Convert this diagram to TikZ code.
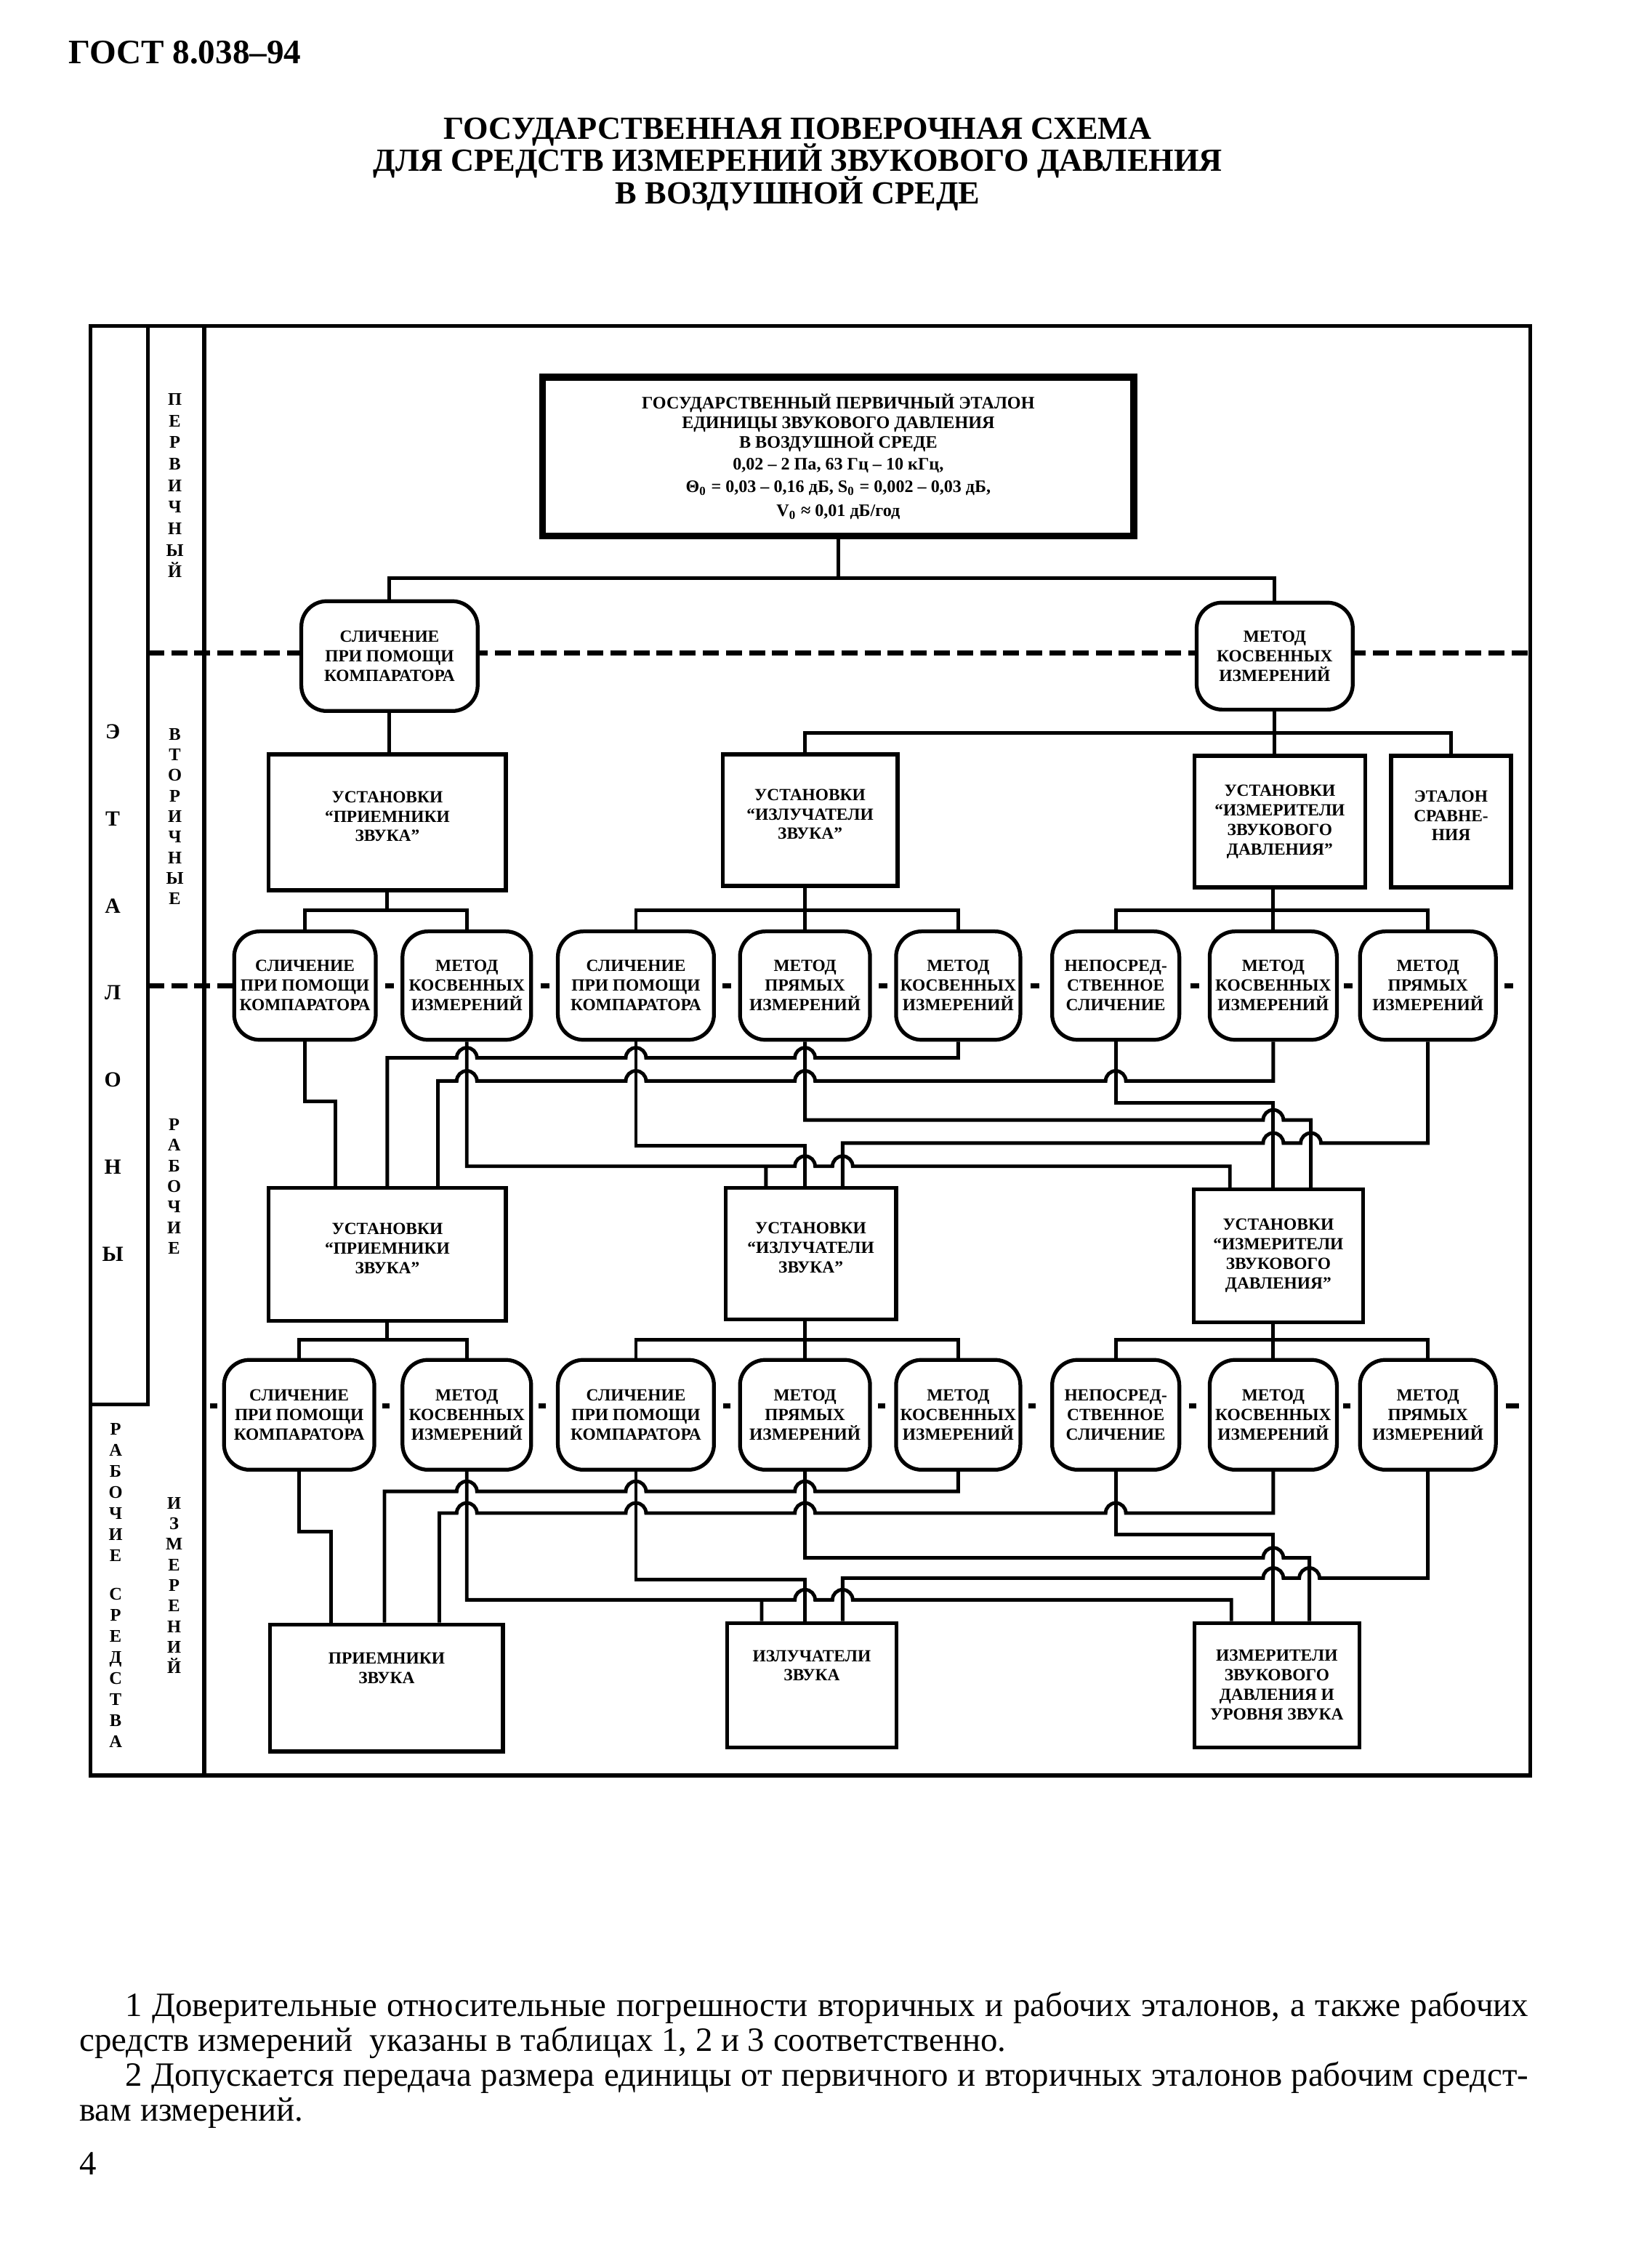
\documentclass[tikz,border=0pt]{standalone}
\usepackage{fontspec}
\setmainfont{Liberation Serif}
\newcommand\hopL[2]{-- (#1+7,#2) arc[start angle=0,end angle=180,radius=1.4mm]}
\newcommand\hopR[2]{-- (#1-7,#2) arc[start angle=180,end angle=0,radius=1.4mm]}
\tikzset{
  ln/.style={line width=1.4pt},
  frm/.style={line width=1.5pt},
  dsh/.style={line width=2pt,dash pattern=on 6.3pt off 2.8pt},
  tick/.style={line width=2pt},
  sz/.style 2 args={minimum width=#1*0.2mm,minimum height=#2*0.2mm},
  box/.style={draw,line width=1.5pt,fill=white,inner sep=0pt,align=center,
    font=\fontsize{6.7}{7.7}\selectfont\bfseries\lineskiplimit-20pt},
  rbox/.style={box,rounded corners=10pt},
  vlbl/.style 2 args={inner sep=0pt,align=center,font=\fontsize{#1}{#2}\selectfont\bfseries}}

\begin{document}
\begin{tikzpicture}[x=0.2mm,y=-0.2mm]
  \useasboundingbox (0,0) rectangle (1143,1568);
  \fill[white] (0,0) rectangle (1143,1568);

  \node[anchor=base west,inner sep=0pt,font=\fontsize{13.5}{15}\selectfont\bfseries] (gost) at (47,44) {ГОСТ 8.038–94};
  \node[anchor=north,inner sep=0pt,align=center,font=\fontsize{12.7}{12.8}\selectfont\bfseries\lineskiplimit-20pt] (ttl) at (552,81)
    {ГОСУДАРСТВЕННАЯ ПОВЕРОЧНАЯ СХЕМА\\ДЛЯ СРЕДСТВ ИЗМЕРЕНИЙ ЗВУКОВОГО ДАВЛЕНИЯ\\В ВОЗДУШНОЙ СРЕДЕ};

  \draw[frm] (62.6,225.6) rectangle (1059,1228.5);
  \draw[frm] (141.3,225.6) -- (141.3,1228.5);
  \draw[frm] (102.5,225.6) -- (102.5,972) -- (62.6,972);
  \draw[dsh] (102.5,452) -- (1059,452);

  \node[vlbl={7}{8.5pt}] (perv) at (121,336) {П\\Е\\Р\\В\\И\\Ч\\Н\\Ы\\Й};
  \node[vlbl={7}{8.1pt}] (vtor) at (121,565) {В\\Т\\О\\Р\\И\\Ч\\Н\\Ы\\Е};
  \node[vlbl={7}{8.1pt}] (rab) at (120.5,821) {Р\\А\\Б\\О\\Ч\\И\\Е};
  \node[vlbl={8.5}{34.3pt}] (etal) at (78,687) {Э\\Т\\А\\Л\\О\\Н\\Ы};
  \node[vlbl={7}{8.3pt}] (rsi) at (80,1097) {Р\\А\\Б\\О\\Ч\\И\\Е\\[7pt]С\\Р\\Е\\Д\\С\\Т\\В\\А};
  \node[vlbl={7}{8.1pt}] (izm) at (120.5,1097) {И\\З\\М\\Е\\Р\\Е\\Н\\И\\Й};

  \node[box,line width=2.6pt,sz={409}{110},font=\fontsize{6.9}{7.7}\selectfont\bfseries\lineskiplimit-20pt] (gpe) at (580,316)
    {ГОСУДАРСТВЕННЫЙ ПЕРВИЧНЫЙ ЭТАЛОН\\ЕДИНИЦЫ ЗВУКОВОГО ДАВЛЕНИЯ\\В ВОЗДУШНОЙ СРЕДЕ\\[1pt]
     0,02 – 2 Па, 63 Гц – 10 кГц,\\[1.2pt]
     Θ\textsubscript{0} = 0,03 – 0,16 дБ, S\textsubscript{0} = 0,002 – 0,03 дБ,\\[1.7pt]
     V\textsubscript{0} ≈ 0,01 дБ/год};
  \node[rbox,sz={122}{76}] (m1) at (269.5,454) {СЛИЧЕНИЕ\\ПРИ ПОМОЩИ\\КОМПАРАТОРА};
  \node[rbox,sz={108}{74}] (m2) at (882,454) {МЕТОД\\КОСВЕННЫХ\\ИЗМЕРЕНИЙ};

  \node[box,sz={164}{94}] (v1) at (268,569) {УСТАНОВКИ\\“ПРИЕМНИКИ\\ЗВУКА”\\[-3pt]~};
  \node[box,sz={121}{91}] (v2) at (560.5,567.5) {УСТАНОВКИ\\“ИЗЛУЧАТЕЛИ\\ЗВУКА”\\[-3pt]~};
  \node[box,sz={118}{91}] (v3) at (885.5,568.5) {УСТАНОВКИ\\“ИЗМЕРИТЕЛИ\\ЗВУКОВОГО\\ДАВЛЕНИЯ”};
  \node[box,sz={83}{91}] (v4) at (1004,568.5) {ЭТАЛОН\\СРАВНЕ-\\НИЯ\\[-3pt]~};

  \node[rbox,sz={98}{75}] (mv1) at (211,682) {СЛИЧЕНИЕ\\ПРИ ПОМОЩИ\\КОМПАРАТОРА};
  \node[rbox,sz={89}{75}] (mv2) at (323,682) {МЕТОД\\КОСВЕННЫХ\\ИЗМЕРЕНИЙ};
  \node[rbox,sz={108}{75}] (mv3) at (440,682) {СЛИЧЕНИЕ\\ПРИ ПОМОЩИ\\КОМПАРАТОРА};
  \node[rbox,sz={90}{75}] (mv4) at (557,682) {МЕТОД\\ПРЯМЫХ\\ИЗМЕРЕНИЙ};
  \node[rbox,sz={86}{75}] (mv5) at (663,682) {МЕТОД\\КОСВЕННЫХ\\ИЗМЕРЕНИЙ};
  \node[rbox,sz={88}{75}] (mv6) at (772,682) {НЕПОСРЕД-\\СТВЕННОЕ\\СЛИЧЕНИЕ};
  \node[rbox,sz={88}{75}] (mv7) at (881,682) {МЕТОД\\КОСВЕННЫХ\\ИЗМЕРЕНИЙ};
  \node[rbox,sz={94}{75}] (mv8) at (988,682) {МЕТОД\\ПРЯМЫХ\\ИЗМЕРЕНИЙ};

  \node[box,sz={164}{92}] (r1) at (268,868) {УСТАНОВКИ\\“ПРИЕМНИКИ\\ЗВУКА”\\[-3pt]~};
  \node[box,sz={118}{91}] (r2) at (561,867.5) {УСТАНОВКИ\\“ИЗЛУЧАТЕЛИ\\ЗВУКА”\\[-3pt]~};
  \node[box,sz={117}{92}] (r3) at (884.5,869) {УСТАНОВКИ\\“ИЗМЕРИТЕЛИ\\ЗВУКОВОГО\\ДАВЛЕНИЯ”};

  \node[rbox,sz={104}{76}] (mr1) at (207,979) {СЛИЧЕНИЕ\\ПРИ ПОМОЩИ\\КОМПАРАТОРА};
  \node[rbox,sz={89}{76}] (mr2) at (323,979) {МЕТОД\\КОСВЕННЫХ\\ИЗМЕРЕНИЙ};
  \node[rbox,sz={108}{76}] (mr3) at (440,979) {СЛИЧЕНИЕ\\ПРИ ПОМОЩИ\\КОМПАРАТОРА};
  \node[rbox,sz={90}{76}] (mr4) at (557,979) {МЕТОД\\ПРЯМЫХ\\ИЗМЕРЕНИЙ};
  \node[rbox,sz={86}{76}] (mr5) at (663,979) {МЕТОД\\КОСВЕННЫХ\\ИЗМЕРЕНИЙ};
  \node[rbox,sz={88}{76}] (mr6) at (772,979) {НЕПОСРЕД-\\СТВЕННОЕ\\СЛИЧЕНИЕ};
  \node[rbox,sz={88}{76}] (mr7) at (881,979) {МЕТОД\\КОСВЕННЫХ\\ИЗМЕРЕНИЙ};
  \node[rbox,sz={94}{76}] (mr8) at (988,979) {МЕТОД\\ПРЯМЫХ\\ИЗМЕРЕНИЙ};

  \node[box,sz={161}{88}] (s1) at (267.5,1168) {ПРИЕМНИКИ\\ЗВУКА\\~\\~};
  \node[box,sz={117.5}{86}] (s2) at (561.7,1166) {ИЗЛУЧАТЕЛИ\\ЗВУКА\\~\\~};
  \node[box,sz={114}{86}] (s3) at (883.5,1166) {ИЗМЕРИТЕЛИ\\ЗВУКОВОГО\\ДАВЛЕНИЯ И\\УРОВНЯ ЗВУКА};

  \draw[dsh] (102.5,682) -- (mv1.west);
  \foreach \x in {269.5,377,503,611,716,826.5,933,1044} \draw[tick] (\x-3,682) -- (\x+3,682);
  \foreach \x in {148,267,375,503,610,714,825,932} \draw[tick] (\x-2.5,973) -- (\x+2.5,973);
  \draw[tick] (1042,973) -- (1051,973);

  \draw[ln] (gpe.south) -- (gpe.south |- 0,400) (m1.north) |- (m2.north |- 0,400) -- (m2.north);
  \draw[ln] (m1.south) -- (m1.south |- v1.north);
  \draw[ln] (m2.south) -- (m2.south |- v3.north) (v2.north -| mv4.north) |- (v4.north |- 0,507) -- (v4.north);

  \draw[ln] (v1.south) -- (v1.south |- 0,630) (mv1.north) |- (mv2.north |- 0,630) -- (mv2.north);
  \draw[ln] (mv4.north |- v2.south) -- (mv4.north) (mv3.north) |- (mv5.north |- 0,630) -- (mv5.north);
  \draw[ln] (mv7.north |- v3.south) -- (mv7.north) (mv6.north) |- (mv8.north |- 0,630) -- (mv8.north);

  \draw[ln] (mv1.south) |- (232,762) -- (232,0 |- r1.north);
  \draw[ln] (mv2.south) |- (530,807) coordinate (j1) \hopR{557}{807} \hopR{583}{807} -- (851,807) -- (851,0 |- r3.north)
    (j1) -- (j1 |- r2.north);
  \draw[ln] (mv3.south) |- (557,793) -- (557,0 |- r2.north);
  \draw[ln] (mv4.south) |- (860,775) \hopR{881}{775} -- (907,775) -- (907,0 |- r3.north);
  \draw[ln] (mv5.south) |- (600,732) \hopL{557}{732} \hopL{440}{732} \hopL{323}{732} -- (268,732) -- (268,0 |- r1.north);
  \draw[ln] (mv6.south) |- (881,763) -- (881,0 |- r3.north);
  \draw[ln] (mv7.south) |- (800,748) \hopL{772}{748} \hopL{557}{748} \hopL{440}{748} \hopL{323}{748} -- (303,748) -- (303,0 |- r1.north);
  \draw[ln] (mv8.south) |- (930,791) \hopL{907}{791} \hopL{881}{791} -- (583,791) -- (583,0 |- r2.north);

  \draw[ln] (r1.south) -- (r1.south |- 0,927) (mr1.north) |- (mr2.north |- 0,927) -- (mr2.north);
  \draw[ln] (mr4.north |- r2.south) -- (mr4.north) (mr3.north) |- (mr5.north |- 0,927) -- (mr5.north);
  \draw[ln] (mr7.north |- r3.south) -- (mr7.north) (mr6.north) |- (mr8.north |- 0,927) -- (mr8.north);

  \draw[ln] (mr1.south) |- (229,1060) -- (229,0 |- s1.north);
  \draw[ln] (mr2.south) |- (527,1107) coordinate (j2) \hopR{557}{1107} \hopR{583}{1107} -- (852,1107) -- (852,0 |- s3.north)
    (j2) -- (j2 |- s2.north);
  \draw[ln] (mr3.south) |- (557,1093) -- (557,0 |- s2.north);
  \draw[ln] (mr4.south) |- (860,1078) \hopR{881}{1078} -- (906,1078) -- (906,0 |- s3.north);
  \draw[ln] (mr5.south) |- (600,1032) \hopL{557}{1032} \hopL{440}{1032} \hopL{323}{1032} -- (266,1032) -- (266,0 |- s1.north);
  \draw[ln] (mr6.south) |- (881,1062) -- (881,0 |- s3.north);
  \draw[ln] (mr7.south) |- (800,1047) \hopL{772}{1047} \hopL{557}{1047} \hopL{440}{1047} \hopL{323}{1047} -- (304,1047) -- (304,0 |- s1.north);
  \draw[ln] (mr8.south) |- (930,1092) \hopL{906}{1092} \hopL{881}{1092} -- (583,1092) -- (583,0 |- s2.north);

  \node[anchor=north west,inner sep=0pt,text width=200.5mm,align=justify,font=\fontsize{13.4}{13.7}\selectfont\lineskiplimit-20pt] (notes) at (54.7,1378)
    {\noindent\hspace*{6.3mm}1 Доверительные относительные погрешности вторичных и рабочих эталонов, а также рабочих\linebreak
     средств измерений\ \ указаны в таблицах 1, 2 и 3 соответственно.\par
     \noindent\hspace*{6.3mm}2 Допускается передача размера единицы от первичного и вторичных эталонов рабочим средст-\linebreak
     вам измерений.};
  \node[anchor=base west,inner sep=0pt,font=\fontsize{13.4}{15}\selectfont] (pg) at (54.7,1505) {4};
\end{tikzpicture}
\end{document}
